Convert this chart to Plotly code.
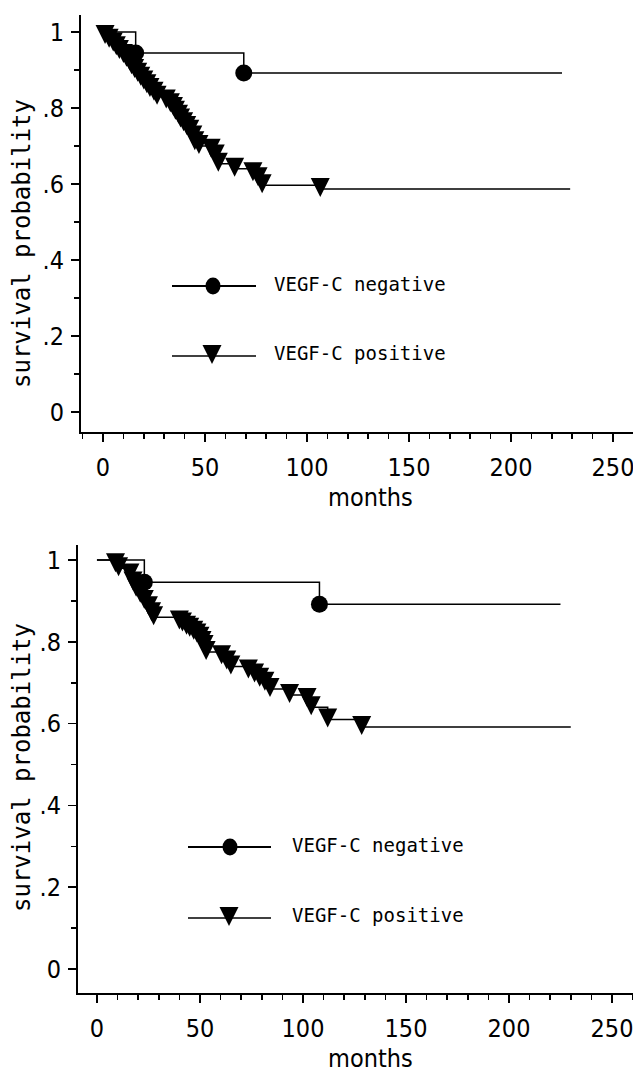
import plotly.graph_objects as go

# ---------------- data ----------------
month_tick_vals = [0, 50, 100, 150, 200, 250]
surv_tick_vals = [0, 0.2, 0.4, 0.6, 0.8, 1.0]
surv_tick_text = ["0", ".2", ".4", ".6", ".8", "1"]
legend_labels = ["VEGF-C negative", "VEGF-C positive"]
x_title = "months"
y_title = "survival probability"

# top panel
top_neg_event_months = [16, 69]
top_neg_event_surv = [0.945, 0.892]
top_neg_last_month = 225

top_pos_event_months = [1, 3, 5, 6.5, 8, 10, 11.5, 13, 14, 15.5, 17, 18.5, 20, 21.5, 23, 25,
                        26.5, 31, 33, 34.5, 35.5, 37, 38, 39.5, 41, 42.5, 44, 45, 47, 53,
                        55, 56.5, 64.5, 73.5, 76, 78, 106.5]
top_pos_event_surv = [0.99, 0.98, 0.97, 0.96, 0.95, 0.94, 0.93, 0.92, 0.91, 0.90, 0.89, 0.88,
                      0.87, 0.86, 0.85, 0.84, 0.83, 0.82, 0.81, 0.80, 0.79, 0.78, 0.77, 0.76,
                      0.75, 0.74, 0.725, 0.71, 0.70, 0.69, 0.675, 0.653, 0.64, 0.628, 0.615,
                      0.597, 0.587]
top_pos_last_month = 229

# bottom panel
bot_neg_event_months = [23, 108]
bot_neg_event_surv = [0.946, 0.892]
bot_neg_last_month = 225

bot_pos_event_months = [9, 10.5, 16, 17.5, 19, 21, 23, 25, 26.5, 27.5, 40, 41.5, 43.5, 45,
                        47, 48.5, 50, 51, 52, 53, 60.5, 63, 65, 73.5, 76.5, 79, 81.5, 84,
                        93.5, 102, 104, 112, 128.5]
bot_pos_event_surv = [0.99, 0.98, 0.965, 0.945, 0.93, 0.915, 0.90, 0.885, 0.87, 0.86, 0.85,
                      0.845, 0.837, 0.832, 0.825, 0.818, 0.81, 0.80, 0.79, 0.775, 0.765,
                      0.752, 0.74, 0.73, 0.72, 0.71, 0.70, 0.685, 0.67, 0.66, 0.64, 0.61,
                      0.592]
bot_pos_last_month = 230

# ---------------- layout constants (pixels) ----------------
W, H = 633, 1072
panels = [
    dict(box=(81, 633, 15, 432), xr=[-10.8, 259.8], yr=[-0.053, 1.045],
         neg=(top_neg_event_months, top_neg_event_surv, top_neg_last_month),
         pos=(top_pos_event_months, top_pos_event_surv, top_pos_last_month),
         legend_line=(172, 256), legend_y=(286, 356), legend_sym_x=(213, 212),
         legend_text_x=272, legend_text_y=(284, 353),
         xtitle=(370, 497), ytitle=(22, 244)),
    dict(box=(78, 633, 545, 993), xr=[-9.2, 260.2], yr=[-0.059, 1.037],
         neg=(bot_neg_event_months, bot_neg_event_surv, bot_neg_last_month),
         pos=(bot_pos_event_months, bot_pos_event_surv, bot_pos_last_month),
         legend_line=(188, 271), legend_y=(847, 918), legend_sym_x=(230, 229),
         legend_text_x=290, legend_text_y=(845, 915),
         xtitle=(370, 1058), ytitle=(22, 768)),
]

tick_font = dict(family="Liberation Sans Narrow, DejaVu Sans Condensed, Arial Narrow, sans-serif",
                 size=25, color="black")
mono_font = "DejaVu Sans Mono, Liberation Mono, monospace"
tri_size = 19
tri_shift_px = 8
circ_size = 17


def km_curve(ev_m, ev_s, last):
    return [0] + list(ev_m) + [last], [1.0] + list(ev_s) + [ev_s[-1]]


def px(x):
    return x / W


def py(y):
    return 1 - y / H


fig = go.Figure()
shapes = []
annotations = []

for i, p in enumerate(panels):
    n = i + 1
    xa = "x" if n == 1 else f"x{n}"
    ya = "y" if n == 1 else f"y{n}"
    ya_m = f"y{n + 2}"
    left, right, top, bottom = p["box"]
    xdom = [px(left), px(right)]
    ydom = [py(bottom), py(top)]
    span = p["yr"][1] - p["yr"][0]
    hpx = bottom - top
    d = tri_shift_px * span / hpx

    # negative curve
    nx, ny = km_curve(*p["neg"])
    fig.add_trace(go.Scatter(x=nx, y=ny, mode="lines", line=dict(color="black", width=1.5, shape="hv"),
                             xaxis=xa, yaxis=ya, showlegend=False, hoverinfo="skip"))
    fig.add_trace(go.Scatter(x=p["neg"][0], y=p["neg"][1], mode="markers",
                             marker=dict(symbol="circle", size=circ_size, color="black"),
                             xaxis=xa, yaxis=ya, showlegend=False, cliponaxis=False))
    # positive curve
    qx, qy = km_curve(*p["pos"])
    fig.add_trace(go.Scatter(x=qx, y=qy, mode="lines", line=dict(color="black", width=1.5, shape="hv"),
                             xaxis=xa, yaxis=ya, showlegend=False, hoverinfo="skip"))
    fig.add_trace(go.Scatter(x=p["pos"][0], y=p["pos"][1], mode="markers",
                             marker=dict(symbol="arrow-down", size=tri_size, color="black",
                                         line=dict(width=0)),
                             xaxis=xa, yaxis=ya_m, showlegend=False, cliponaxis=False))

    axis_common = dict(showline=True, linecolor="black", linewidth=2, ticks="outside",
                       tickcolor="black", tickwidth=1.5, ticklen=8, showgrid=False,
                       zeroline=False, tickfont=tick_font, fixedrange=True, automargin=False,
                       ticklabeloverflow="allow")
    fig.update_layout({
        ("xaxis" if n == 1 else f"xaxis{n}"): dict(
            axis_common, domain=xdom, range=p["xr"], anchor=ya, tickmode="array",
            tickvals=month_tick_vals, ticklabelstandoff=4,
            minor=dict(dtick=10, tick0=0, ticklen=5, ticks="outside", tickcolor="black", tickwidth=1.5)),
        ("yaxis" if n == 1 else f"yaxis{n}"): dict(
            axis_common, domain=ydom, range=p["yr"], anchor=xa, tickmode="array",
            tickvals=surv_tick_vals, ticktext=surv_tick_text, ticklabelstandoff=2,
            minor=dict(dtick=0.1, tick0=0, ticklen=5, ticks="outside", tickcolor="black", tickwidth=1.5)),
        f"yaxis{n + 2}": dict(overlaying=ya, range=[p["yr"][0] + d, p["yr"][1] + d], visible=False,
                              fixedrange=True, automargin=False),
    })

    # axis titles
    annotations.append(dict(text=x_title, x=px(p["xtitle"][0]), y=py(p["xtitle"][1]), xref="paper",
                            yref="paper", showarrow=False, xanchor="center", yanchor="middle",
                            font=tick_font))
    annotations.append(dict(text=y_title, x=px(p["ytitle"][0]), y=py(p["ytitle"][1]), xref="paper",
                            yref="paper", showarrow=False, xanchor="center", yanchor="middle",
                            textangle=-90, font=dict(family=mono_font, size=24, color="black")))

    # manual legend
    l0, l1 = p["legend_line"]
    for k in range(2):
        ly = p["legend_y"][k]
        shapes.append(dict(type="line", xref="paper", yref="paper", x0=px(l0), x1=px(l1),
                           y0=py(ly), y1=py(ly), line=dict(color="black", width=1.8 if k == 0 else 1.3)))
        sx = p["legend_sym_x"][k]
        if k == 0:
            shapes.append(dict(type="circle", xref="paper", yref="paper", x0=px(sx - 7.5), x1=px(sx + 7.5),
                               y0=py(ly - 8.5), y1=py(ly + 8.5), fillcolor="black",
                               line=dict(color="black", width=0)))
        else:
            half = tri_size / 2
            top_y = ly - (tri_size - tri_shift_px)
            tip_y = ly + tri_shift_px
            path = (f"M{px(sx - half)},{py(top_y)} L{px(sx + half)},{py(top_y)} "
                    f"L{px(sx)},{py(tip_y)} Z")
            shapes.append(dict(type="path", xref="paper", yref="paper", path=path, fillcolor="black",
                               line=dict(color="black", width=0)))
        annotations.append(dict(text=legend_labels[k], x=px(p["legend_text_x"]),
                                y=py(p["legend_text_y"][k]), xref="paper", yref="paper",
                                showarrow=False, xanchor="left", yanchor="middle",
                                font=dict(family=mono_font, size=19, color="black")))

fig.update_layout(template="none", width=W, height=H, autosize=False,
                  margin=dict(l=0, r=0, t=0, b=0, pad=0, autoexpand=False),
                  paper_bgcolor="white", plot_bgcolor="white", showlegend=False,
                  shapes=shapes, annotations=annotations)

fig.write_html("out.html", config={"displayModeBar": False, "staticPlot": True},
               post_script="document.body.style.margin='0';document.body.style.overflow='hidden';")
